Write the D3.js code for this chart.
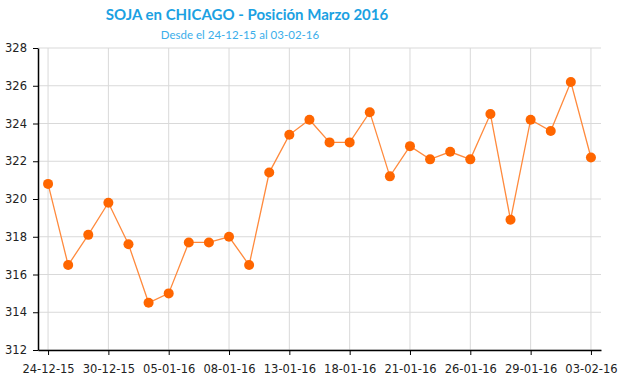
<!DOCTYPE html>
<html>
<head>
<meta charset="utf-8">
<script src="https://cdn.jsdelivr.net/npm/d3@7"></script>
<style>
  body { margin: 0; background: #fff; }
  .axis text { font-family: "DejaVu Sans", Verdana, sans-serif; font-size: 11.5px; fill: #222; }
  .axis path, .axis line { stroke: #000; }
</style>
</head>
<body>
<div id="vis"></div>
<script>
// fechas (rueda) y precios en u$s/tn
var dates = ['24-12-15', '28-12-15', '29-12-15', '30-12-15', '31-12-15', '04-01-16', '05-01-16',
  '06-01-16', '07-01-16', '08-01-16', '11-01-16', '12-01-16', '13-01-16', '14-01-16', '15-01-16',
  '18-01-16', '19-01-16', '20-01-16', '21-01-16', '22-01-16', '25-01-16', '26-01-16', '27-01-16',
  '28-01-16', '29-01-16', '01-02-16', '02-02-16', '03-02-16'];
var prices = [320.8, 316.5, 318.1, 319.8, 317.6, 314.5, 315.0, 317.7, 317.7, 318.0, 316.5, 321.4,
  323.4, 324.2, 323.0, 323.0, 324.6, 321.2, 322.8, 322.1, 322.5, 322.1, 324.5, 318.9,
  324.2, 323.6, 326.2, 322.2];
var yTicks = [312, 314, 316, 318, 320, 322, 324, 326, 328];
var xTickLabels = ['24-12-15', '30-12-15', '05-01-16', '08-01-16', '13-01-16', '18-01-16',
  '21-01-16', '26-01-16', '29-01-16', '03-02-16'];

var width = 620, height = 375;
var margin = { top: 48, left: 38, bottom: 25, right: 19 };

var svg = d3.select('#vis').append('svg')
  .attr('width', width)
  .attr('height', height);

var x = d3.scalePoint()
  .domain(dates)
  .range([margin.left, width - margin.right])
  .padding(0.5);

var y = d3.scaleLinear()
  .domain([312, 328])
  .range([height - margin.bottom, margin.top]);

// grid
svg.append('g').selectAll('line.hgrid')
  .data(yTicks)
  .enter().append('line')
  .attr('x1', margin.left).attr('x2', width - margin.right)
  .attr('y1', function(d) { return y(d); }).attr('y2', function(d) { return y(d); })
  .attr('stroke', '#d9d9d9').attr('stroke-width', 1);

svg.append('g').selectAll('line.vgrid')
  .data(xTickLabels)
  .enter().append('line')
  .attr('x1', function(d) { return x(d); }).attr('x2', function(d) { return x(d); })
  .attr('y1', margin.top).attr('y2', height - margin.bottom)
  .attr('stroke', '#d9d9d9').attr('stroke-width', 1);

// axes
svg.append('g')
  .attr('class', 'axis')
  .attr('transform', 'translate(' + margin.left + ',0)')
  .call(d3.axisLeft(y).tickValues(yTicks).tickSize(5).tickSizeOuter(0).tickPadding(6));

svg.append('g')
  .attr('class', 'axis')
  .attr('transform', 'translate(0,' + (height - margin.bottom) + ')')
  .call(d3.axisBottom(x).tickValues(xTickLabels).tickSize(5).tickSizeOuter(0).tickPadding(10));

svg.selectAll('.axis .domain').attr('stroke-width', 1.5);

// serie
var line = d3.line()
  .x(function(d, i) { return x(dates[i]); })
  .y(function(d) { return y(d); });

svg.append('path')
  .datum(prices)
  .attr('d', line)
  .attr('fill', 'none')
  .attr('stroke', '#ff8a3d')
  .attr('stroke-width', 1.3);

svg.append('g').selectAll('circle')
  .data(prices)
  .enter().append('circle')
  .attr('cx', function(d, i) { return x(dates[i]); })
  .attr('cy', function(d) { return y(d); })
  .attr('r', 5)
  .attr('fill', '#ff6600');

// titulos
svg.append('text')
  .attr('x', 247).attr('y', 20)
  .attr('text-anchor', 'middle')
  .style('font-family', 'Lato, "Open Sans", sans-serif')
  .style('font-weight', 'bold')
  .style('font-size', '15px')
  .style('fill', '#1ba1e2')
  .text('SOJA en CHICAGO - Posición Marzo 2016');

svg.append('text')
  .attr('x', 240).attr('y', 39)
  .attr('text-anchor', 'middle')
  .style('font-family', 'Lato, "Open Sans", sans-serif')
  .style('font-size', '11.5px')
  .style('fill', '#3aaeea')
  .text('Desde el 24-12-15 al 03-02-16');
</script>
</body>
</html>
